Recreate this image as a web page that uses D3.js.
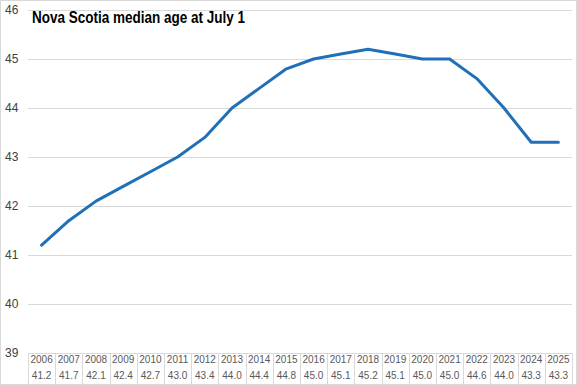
<!DOCTYPE html>
<html><head><meta charset="utf-8">
<script src="https://cdn.jsdelivr.net/npm/d3@7"></script>
<style>body{margin:0;background:#fff}svg{display:block}</style>
</head><body>
<script>
const years = ["2006","2007","2008","2009","2010","2011","2012","2013","2014","2015","2016","2017","2018","2019","2020","2021","2022","2023","2024","2025"];
const medianAge = [41.2,41.7,42.1,42.4,42.7,43.0,43.4,44.0,44.4,44.8,45.0,45.1,45.2,45.1,45.0,45.0,44.6,44.0,43.3,43.3];
const yTicks = [39,40,41,42,43,44,45,46];
const title = "Nova Scotia median age at July 1";

(function(){
const W = 577, H = 385;
const mLeft = 28, mRight = 572, mTop = 10, mBottom = 353;
const svg = d3.select("body").append("svg").attr("width", W).attr("height", H);
svg.append("rect").attr("x",0.5).attr("y",0.5).attr("width",W-1).attr("height",H-1)
  .attr("fill","#fff").attr("stroke","#d9d9d9");

const x = d3.scaleBand().domain(years).range([mLeft, mRight]);
const y = d3.scaleLinear().domain([39,46]).range([mBottom, mTop]);

// gridlines
svg.append("g").selectAll("line").data(yTicks).join("line")
  .attr("x1", mLeft).attr("x2", mRight)
  .attr("y1", d => Math.round(y(d))+0.5).attr("y2", d => Math.round(y(d))+0.5)
  .attr("stroke", "#d9d9d9").attr("stroke-width", 1);

// y labels
svg.append("g").selectAll("text").data(yTicks).join("text")
  .attr("x", 5).attr("y", d => y(d)).attr("dy", "0.35em")
  .attr("font-family", "Liberation Sans, Arial, sans-serif").attr("font-size", 12)
  .attr("fill", "#404040").text(d => d);

// table
const tbl = svg.append("g");
tbl.selectAll("line").data(d3.range(years.length+1)).join("line")
  .attr("x1", i => Math.round(mLeft + i*x.bandwidth())+0.5)
  .attr("x2", i => Math.round(mLeft + i*x.bandwidth())+0.5)
  .attr("y1", Math.round(y(39))).attr("y2", H)
  .attr("stroke", "#d9d9d9");
tbl.selectAll("text.yr").data(years).join("text").attr("class","yr")
  .attr("x", d => x(d) + x.bandwidth()/2).attr("y", 363)
  .attr("text-anchor","middle").attr("font-family","Liberation Sans Narrow, Liberation Sans, Arial, sans-serif")
  .attr("font-size", 10).attr("fill","#595959").text(d => d);
tbl.selectAll("text.val").data(medianAge).join("text").attr("class","val")
  .attr("x", (d,i) => x(years[i]) + x.bandwidth()/2).attr("y", 379)
  .attr("text-anchor","middle").attr("font-family","Liberation Sans Narrow, Liberation Sans, Arial, sans-serif")
  .attr("font-size", 10).attr("fill","#595959").text(d => d.toFixed(1));

// line
const line = d3.line().x((d,i) => x(years[i]) + x.bandwidth()/2).y(d => y(d));
svg.append("path").datum(medianAge).attr("d", line)
  .attr("fill","none").attr("stroke","#1f70b8").attr("stroke-width",3)
  .attr("stroke-linejoin","round").attr("stroke-linecap","round");

// title
svg.append("text").attr("x", 32).attr("y", 23)
  .attr("font-family", "Liberation Sans Narrow, Liberation Sans, Arial, sans-serif")
  .attr("font-weight","bold").attr("font-size", 16).attr("fill","#000")
  .attr("textLength", 213).attr("lengthAdjust","spacingAndGlyphs")
  .text(title);
})();
</script>
</body></html>
